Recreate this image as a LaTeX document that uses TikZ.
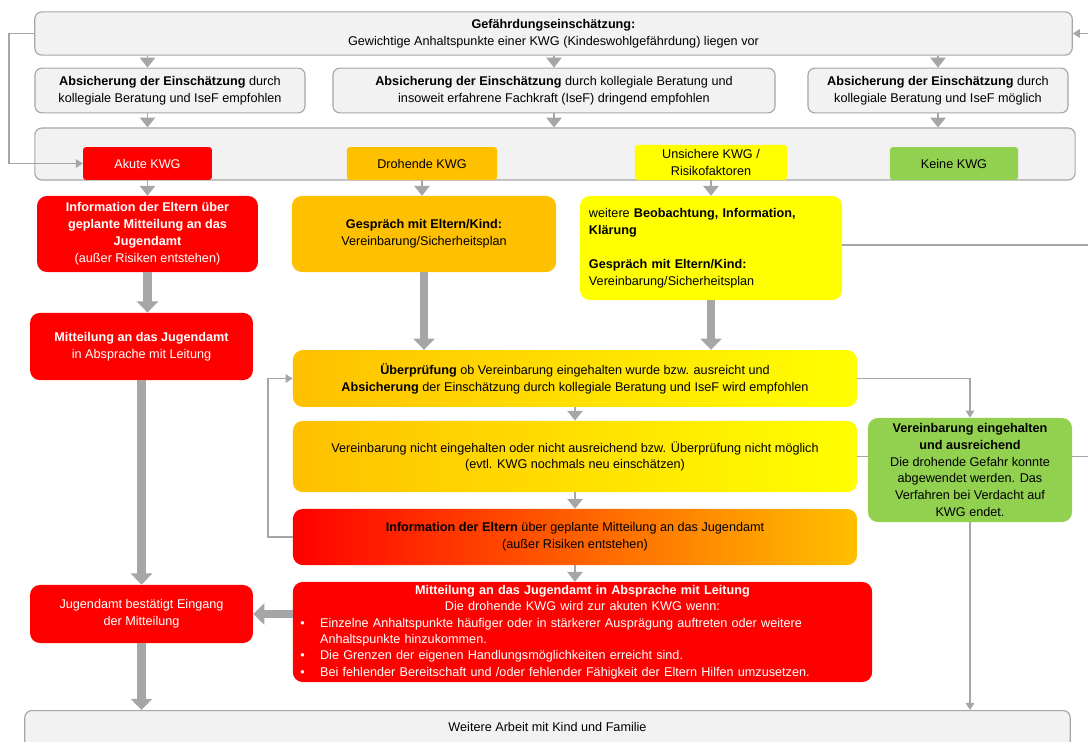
\documentclass[tikz,border=0pt]{standalone}
\usepackage{fontspec}
\setmainfont{Liberation Sans}
\usetikzlibrary{arrows.meta}

\definecolor{kwgrot}{HTML}{FF0000}
\definecolor{kwgorange}{HTML}{FFC000}
\definecolor{kwggelb}{HTML}{FFFF00}
\definecolor{kwggruen}{HTML}{92D050}
\definecolor{kastengrau}{HTML}{F2F2F2}
\definecolor{pfeilgrau}{HTML}{A6A6A6}

\newcommand{\punkt}[1]{\hangindent=14pt\hangafter=1\makebox[14pt][l]{\textbullet}#1\par}

\tikzset{
  schrift/.style={font=\fontsize{9}{12}\selectfont},
  graubox/.style={draw=pfeilgrau, line width=0.8pt, fill=kastengrau, rounded corners=5pt, align=center, schrift},
  farbbox/.style={rounded corners=7pt, align=center, schrift, inner sep=2pt},
  kwgbox/.style={rounded corners=2pt, align=center, schrift, inner sep=1pt, minimum height=0.82cm},
  spitze/.style={draw=pfeilgrau, line width=1pt, -{Triangle[length=7pt, width=11pt]}},
  dick/.style={draw=pfeilgrau, line width=6pt, -{Triangle[length=8pt, width=15pt]}},
  duenn/.style={draw=pfeilgrau, line width=1.3pt, -{Triangle[length=5pt, width=6pt]}},
  linie/.style={draw=pfeilgrau, line width=1.3pt}
}

\begin{document}
\begin{tikzpicture}[x=0.025cm, y=-0.025cm]
\useasboundingbox (0,0) rectangle (1088,742);

% Assessment
\node[graubox, minimum width=25.93cm, minimum height=1.08cm] (gefahr) at (553.5,33.5) {\textbf{Gefährdungseinschätzung:}\\Gewichtige Anhaltspunkte einer KWG (Kindeswohlgefährdung) liegen vor};
\node[graubox, minimum width=6.75cm, minimum height=1.12cm] (absL) at (170,90.5) {\textbf{Absicherung der Einschätzung} durch\\kollegiale Beratung und IseF empfohlen};
\node[graubox, minimum width=11.05cm, minimum height=1.12cm] (absM) at (554,90.5) {\textbf{Absicherung der Einschätzung} durch kollegiale Beratung und\\insoweit erfahrene Fachkraft (IseF) dringend empfohlen};
\node[graubox, minimum width=6.5cm, minimum height=1.12cm] (absR) at (938,90.5) {\textbf{Absicherung der Einschätzung} durch\\kollegiale Beratung und IseF möglich};

% Categories
\node[graubox, minimum width=26cm, minimum height=1.3cm] (kwg) at (555,154) {};
\node[kwgbox, fill=kwgrot, text=white, minimum width=3.22cm] (akut) at (147.5,163.5) {Akute KWG};
\node[kwgbox, fill=kwgorange, minimum width=3.75cm] (droh) at (422,163.5) {Drohende KWG};
\node[kwgbox, fill=kwggelb, minimum width=3.8cm, minimum height=0.88cm] (unsich) at (711,162.5) {Unsichere KWG /\\Risikofaktoren};
\node[kwgbox, fill=kwggruen, minimum width=3.2cm] (keine) at (954,163.5) {Keine KWG};

% First steps
\node[farbbox, fill=kwgrot, text=white, minimum width=5.52cm, minimum height=1.9cm] (infoA) at (147.5,234) {\textbf{Information der Eltern über}\\\textbf{geplante Mitteilung an das}\\\textbf{Jugendamt}\\(außer Risiken entstehen)};
\node[farbbox, fill=kwgorange, minimum width=6.6cm, minimum height=1.9cm] (gespD) at (424,234) {\textbf{Gespräch mit Eltern/Kind:}\\Vereinbarung/Sicherheitsplan};
\node[farbbox, fill=kwggelb, minimum width=6.55cm, minimum height=2.6cm, text width=6.1cm, align=left] (beob) at (711,248) {weitere \textbf{Beobachtung, Information,}\\\textbf{Klärung}\\[12pt]\textbf{Gespräch mit Eltern/Kind:}\\Vereinbarung/Sicherheitsplan};
\node[farbbox, fill=kwgrot, text=white, minimum width=5.57cm, minimum height=1.68cm] (mittA) at (141.5,346.5) {\textbf{Mitteilung an das Jugendamt}\\in Absprache mit Leitung};

% Review
\node[farbbox, left color=kwgorange, right color=kwggelb, minimum width=14.1cm, minimum height=1.42cm] (pruef) at (575,378.5) {\textbf{Überprüfung} ob Vereinbarung eingehalten wurde bzw. ausreicht und\\\textbf{Absicherung} der Einschätzung durch kollegiale Beratung und IseF wird empfohlen};
\node[farbbox, left color=kwgorange, right color=kwggelb, minimum width=14.1cm, minimum height=1.78cm] (nicht) at (575,456.5) {Vereinbarung nicht eingehalten oder nicht ausreichend bzw. Überprüfung nicht möglich\\(evtl. KWG nochmals neu einschätzen)};
\node[farbbox, left color=kwgrot, right color=kwgorange, minimum width=14.1cm, minimum height=1.4cm] (infoE) at (575,537) {\textbf{Information der Eltern} über geplante Mitteilung an das Jugendamt\\(außer Risiken entstehen)};
\node[farbbox, fill=kwgrot, text=white, minimum width=14.48cm, minimum height=2.5cm, text width=14.1cm, inner ysep=1pt, font=\fontsize{9}{11.6}\selectfont] (mittE) at (582.5,632) {\setlength{\parindent}{0pt}\centering\textbf{Mitteilung an das Jugendamt in Absprache mit Leitung}\par
Die drohende KWG wird zur akuten KWG wenn:\par
\raggedright
\punkt{Einzelne Anhaltspunkte häufiger oder in stärkerer Ausprägung auftreten oder weitere\newline Anhaltspunkte hinzukommen.}
\punkt{Die Grenzen der eigenen Handlungsmöglichkeiten erreicht sind.}
\punkt{Bei fehlender Bereitschaft und /oder fehlender Fähigkeit der Eltern Hilfen umzusetzen.}};

% Outcome
\node[farbbox, fill=kwgrot, text=white, minimum width=5.57cm, minimum height=1.45cm] (jugA) at (141.5,614) {Jugendamt bestätigt Eingang\\der Mitteilung};
\node[farbbox, fill=kwggruen, minimum width=5.1cm, minimum height=2.6cm] (gruen) at (970,470) {\textbf{Vereinbarung eingehalten}\\\textbf{und ausreichend}\\Die drohende Gefahr konnte\\abgewendet werden. Das\\Verfahren bei Verdacht auf\\KWG endet.};
\node[graubox, anchor=north, minimum width=26.13cm, inner ysep=8pt, text height=7pt, text depth=30pt] (weiter) at (547.5,710) {Weitere Arbeit mit Kind und Familie};

% Small arrows
\draw[spitze] (gefahr.south -| akut) -- (absL.north -| akut);
\draw[spitze] (gefahr.south -| absM) -- (absM.north);
\draw[spitze] (gefahr.south -| absR) -- (absR.north);
\draw[spitze] (absL.south -| akut) -- (kwg.north -| akut);
\draw[spitze] (absM.south) -- (kwg.north -| absM);
\draw[spitze] (absR.south) -- (kwg.north -| absR);
\draw[spitze] (akut.south) -- (akut.south |- infoA.north);
\draw[spitze] (droh.south) -- (droh.south |- gespD.north);
\draw[spitze] (unsich.south) -- (unsich.south |- beob.north);
\draw[spitze] (pruef.south) -- (nicht.north);
\draw[spitze] (nicht.south) -- (infoE.north);
\draw[spitze] (infoE.south) -- (infoE.south |- mittE.north);

% Thick arrows
\draw[dick] (infoA.south) -- (infoA.south |- mittA.north);
\draw[dick] (gespD.south) -- (gespD.south |- pruef.north);
\draw[dick] (beob.south) -- (beob.south |- pruef.north);
\draw[dick] (mittA.south) -- (jugA.north);
\draw[dick] (mittE.west |- jugA.east) -- (jugA.east);
\draw[dick] (jugA.south) -- (jugA.south |- weiter.north);

% Thin lines
\coordinate (rechtsOben) at (1088,33.5);
\coordinate (rechtsMitte) at (1088,245);
\coordinate (rechtsUnten) at (1088,456.5);
\draw[duenn] (gefahr.west) -- ++(-25,0) |- (akut.west);
\draw[duenn] (rechtsOben) -- (gefahr.east);
\draw[linie] (beob.east |- rechtsMitte) -- (rechtsMitte);
\draw[duenn] (pruef.east) -| (gruen.north);
\draw[linie] (nicht.east) -- (nicht.east -| gruen.west);
\draw[linie] (nicht.east -| gruen.east) -- (rechtsUnten);
\draw[duenn] (gruen.south) -- (gruen.south |- weiter.north);
\draw[duenn] (infoE.west) -- ++(-25,0) |- (pruef.west);
\end{tikzpicture}
\end{document}
